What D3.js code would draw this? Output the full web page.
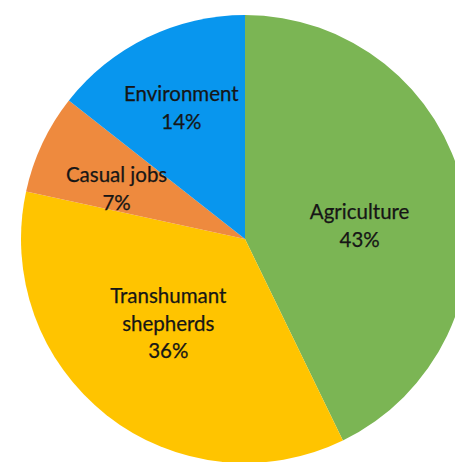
<!DOCTYPE html>
<html>
<head>
<meta charset="utf-8">
<script src="https://d3js.org/d3.v7.min.js"></script>
<style>
  body { margin: 0; background: white; }
  svg { display: block; }
  .label { font-family: Lato, "Open Sans", sans-serif; font-size: 20.5px; fill: #161616; stroke: #161616; stroke-width: 0.25px; }
</style>
</head>
<body>
<svg></svg>
<script>
const categories = ["Agriculture", "Transhumant shepherds", "Casual jobs", "Environment"];
const values = [42.8, 35.6, 7.2, 14.4];
const labelLines = [["Agriculture"], ["Transhumant", "shepherds"], ["Casual jobs"], ["Environment"]];
const colors = ["#7bb554", "#ffc400", "#ee8a3e", "#0896ee"];

const w = 455, h = 462;
const cx = 245, cy = 239, r = 224;
// label placement: distance as share of radius, and a small turn (degrees) off the mid angle
const labelRadius = [0.515, 0.51, 0.615, 0.65];
const labelTurn = [6.5, 4, -4, 0];
const lineHeight = 27.5;

const svg = d3.select("svg").attr("width", w).attr("height", h);
const g = svg.append("g").attr("transform", `translate(${cx},${cy})`);

const data = categories.map((c, i) => ({ name: c, value: values[i], lines: labelLines[i], i: i }));
const pie = d3.pie().sort(null).value(d => d.value);
const arcs = pie(data);
const total = d3.sum(values);
const pct = d3.format(".0%");

const arc = d3.arc().innerRadius(0).outerRadius(r);

g.selectAll("path")
  .data(arcs)
  .enter()
  .append("path")
  .attr("d", arc)
  .attr("fill", d => colors[d.data.i]);

const labels = g.selectAll("text")
  .data(arcs)
  .enter()
  .append("text")
  .attr("class", "label")
  .attr("text-anchor", "middle")
  .attr("transform", d => {
    const a = (d.startAngle + d.endAngle) / 2 + labelTurn[d.data.i] * Math.PI / 180;
    const lr = r * labelRadius[d.data.i];
    return `translate(${lr * Math.sin(a)},${-lr * Math.cos(a)})`;
  });

labels.each(function(d) {
  const lines = d.data.lines.concat([pct(d.data.value / total)]);
  const first = -(lines.length - 1) / 2 * lineHeight + 7;
  d3.select(this).selectAll("tspan")
    .data(lines)
    .enter()
    .append("tspan")
    .attr("x", 0)
    .attr("y", (t, j) => first + j * lineHeight)
    .text(t => t);
});
</script>
</body>
</html>
